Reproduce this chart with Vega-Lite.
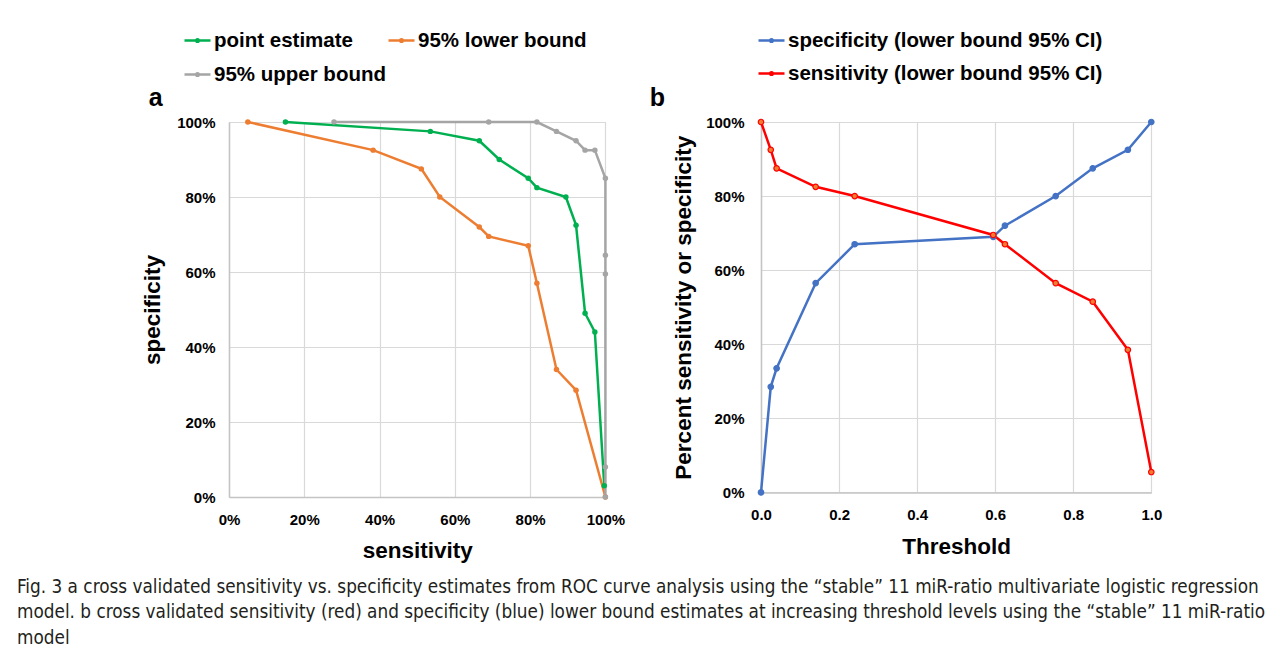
{
  "$schema": "https://vega.github.io/schema/vega-lite/v6.json",
  "padding": {"left": 17, "top": 26, "right": 5, "bottom": 5},
  "background": "#ffffff",
  "config": {
    "view": {"stroke": null},
    "axis": {
      "labelFont": "Liberation Sans", "labelFontWeight": "bold", "labelFontSize": 15, "labelColor": "#000000", "labelFlush": false,
      "titleFont": "Liberation Sans", "titleFontWeight": "bold", "titleFontSize": 22.5, "titleColor": "#000000",
      "gridColor": "#d9d9d9", "gridWidth": 1.2, "domainColor": "#c4c4c4", "domainWidth": 1.5, "ticks": false
    },
    "title": {"font": "Liberation Sans", "fontWeight": "bold", "color": "#000000"}
  },
  "title": {
    "text": [
      "Fig. 3  a cross validated sensitivity vs. specificity estimates from ROC curve analysis using the “stable” 11 miR-ratio multivariate logistic regression",
      "model. b cross validated sensitivity (red) and specificity (blue) lower bound estimates at increasing threshold levels using the “stable” 11 miR-ratio",
      "model"
    ],
    "orient": "bottom", "anchor": "start", "frame": "group", "dx": -212, "offset": 16,
    "font": "DejaVu Sans Condensed, Liberation Sans", "fontSize": 18.8, "fontWeight": "normal",
    "lineHeight": 25.5, "color": "#231f20", "baseline": "top"
  },
  "bounds": "flush",
  "spacing": 155,
  "resolve": {
    "scale": {"x": "independent", "y": "independent", "color": "independent", "fill": "independent", "stroke": "independent"},
    "legend": {"color": "independent", "fill": "independent", "stroke": "independent"}
  },
  "hconcat": [
    {
      "width": 376.4, "height": 375,
      "title": {"text": "a", "anchor": "start", "frame": "bounds", "dx": 7, "offset": -85, "fontSize": 25},
      "data": {"values": [
        {"series": "point estimate", "i": 1, "sens": 0.15, "spec": 1.0},
        {"series": "point estimate", "i": 2, "sens": 0.535, "spec": 0.975},
        {"series": "point estimate", "i": 3, "sens": 0.665, "spec": 0.95},
        {"series": "point estimate", "i": 4, "sens": 0.718, "spec": 0.9},
        {"series": "point estimate", "i": 5, "sens": 0.795, "spec": 0.85},
        {"series": "point estimate", "i": 6, "sens": 0.818, "spec": 0.825},
        {"series": "point estimate", "i": 7, "sens": 0.895, "spec": 0.8},
        {"series": "point estimate", "i": 8, "sens": 0.922, "spec": 0.725},
        {"series": "point estimate", "i": 9, "sens": 0.946, "spec": 0.49},
        {"series": "point estimate", "i": 10, "sens": 0.972, "spec": 0.44},
        {"series": "point estimate", "i": 11, "sens": 0.997, "spec": 0.03},
        {"series": "95% lower bound", "i": 1, "sens": 0.05, "spec": 1.0},
        {"series": "95% lower bound", "i": 2, "sens": 0.383, "spec": 0.925},
        {"series": "95% lower bound", "i": 3, "sens": 0.511, "spec": 0.875},
        {"series": "95% lower bound", "i": 4, "sens": 0.56, "spec": 0.8},
        {"series": "95% lower bound", "i": 5, "sens": 0.665, "spec": 0.72},
        {"series": "95% lower bound", "i": 6, "sens": 0.69, "spec": 0.695},
        {"series": "95% lower bound", "i": 7, "sens": 0.795, "spec": 0.67},
        {"series": "95% lower bound", "i": 8, "sens": 0.818, "spec": 0.57},
        {"series": "95% lower bound", "i": 9, "sens": 0.87, "spec": 0.34},
        {"series": "95% lower bound", "i": 10, "sens": 0.922, "spec": 0.285},
        {"series": "95% lower bound", "i": 11, "sens": 1.0, "spec": 0.0},
        {"series": "95% upper bound", "i": 1, "sens": 0.279, "spec": 1.0},
        {"series": "95% upper bound", "i": 2, "sens": 0.69, "spec": 1.0},
        {"series": "95% upper bound", "i": 3, "sens": 0.818, "spec": 1.0},
        {"series": "95% upper bound", "i": 4, "sens": 0.87, "spec": 0.975},
        {"series": "95% upper bound", "i": 5, "sens": 0.922, "spec": 0.95},
        {"series": "95% upper bound", "i": 6, "sens": 0.946, "spec": 0.925},
        {"series": "95% upper bound", "i": 7, "sens": 0.972, "spec": 0.925},
        {"series": "95% upper bound", "i": 8, "sens": 1.0, "spec": 0.85},
        {"series": "95% upper bound", "i": 9, "sens": 1.0, "spec": 0.645},
        {"series": "95% upper bound", "i": 10, "sens": 1.0, "spec": 0.595},
        {"series": "95% upper bound", "i": 11, "sens": 1.0, "spec": 0.08},
        {"series": "95% upper bound", "i": 12, "sens": 1.0, "spec": 0.0}
      ]},
      "encoding": {
        "x": {"field": "sens", "type": "quantitative", "title": "sensitivity",
              "scale": {"domain": [0, 1], "nice": false},
              "axis": {"format": ".0%", "values": [0, 0.2, 0.4, 0.6, 0.8, 1.0], "labelPadding": 15, "titlePadding": 12}},
        "y": {"field": "spec", "type": "quantitative", "title": "specificity",
              "scale": {"domain": [0, 1], "nice": false},
              "axis": {"format": ".0%", "values": [0, 0.2, 0.4, 0.6, 0.8, 1.0], "labelPadding": 14, "titlePadding": 12}}
      },
      "layer": [
        {
          "mark": {"type": "line", "strokeWidth": 2.5},
          "encoding": {
            "order": {"field": "i", "type": "quantitative"},
            "color": {"field": "series", "type": "nominal",
              "scale": {"domain": ["point estimate", "95% upper bound", "95% lower bound"], "range": ["#00b050", "#a5a5a5", "#ed7d31"]},
              "legend": {"title": null, "orient": "none", "legendX": -46, "legendY": -96, "columns": 2, "columnPadding": -3, "rowPadding": 9,
                "symbolType": "M-1,0H1M0.1,0A0.1,0.1,0,1,1,-0.1,0A0.1,0.1,0,1,1,0.1,0", "symbolSize": 676, "symbolStrokeWidth": 2.5,
                "labelFont": "Liberation Sans", "labelFontWeight": "bold", "labelFontSize": 20.5, "labelColor": "#000000", "labelOffset": 2, "labelLimit": 400}}
          }
        },
        {
          "mark": {"type": "point", "filled": true, "size": 30, "opacity": 1},
          "encoding": {
            "fill": {"field": "series", "type": "nominal",
              "scale": {"domain": ["point estimate", "95% lower bound", "95% upper bound"], "range": ["#00b050", "#ed7d31", "#a5a5a5"]},
              "legend": null}
          }
        }
      ]
    },
    {
      "width": 390.3, "height": 370.4,
      "title": {"text": "b", "anchor": "start", "frame": "bounds", "dx": -23, "offset": -85, "fontSize": 25},
      "data": {"values": [
        {"measure": "specificity (lower bound 95% CI)", "threshold": 0.0, "value": 0.0},
        {"measure": "specificity (lower bound 95% CI)", "threshold": 0.025, "value": 0.285},
        {"measure": "specificity (lower bound 95% CI)", "threshold": 0.04, "value": 0.335},
        {"measure": "specificity (lower bound 95% CI)", "threshold": 0.14, "value": 0.565},
        {"measure": "specificity (lower bound 95% CI)", "threshold": 0.24, "value": 0.67},
        {"measure": "specificity (lower bound 95% CI)", "threshold": 0.595, "value": 0.69},
        {"measure": "specificity (lower bound 95% CI)", "threshold": 0.625, "value": 0.72},
        {"measure": "specificity (lower bound 95% CI)", "threshold": 0.755, "value": 0.8},
        {"measure": "specificity (lower bound 95% CI)", "threshold": 0.85, "value": 0.875},
        {"measure": "specificity (lower bound 95% CI)", "threshold": 0.94, "value": 0.925},
        {"measure": "specificity (lower bound 95% CI)", "threshold": 1.0, "value": 1.0},
        {"measure": "sensitivity (lower bound 95% CI)", "threshold": 0.0, "value": 1.0},
        {"measure": "sensitivity (lower bound 95% CI)", "threshold": 0.025, "value": 0.925},
        {"measure": "sensitivity (lower bound 95% CI)", "threshold": 0.04, "value": 0.875},
        {"measure": "sensitivity (lower bound 95% CI)", "threshold": 0.14, "value": 0.825},
        {"measure": "sensitivity (lower bound 95% CI)", "threshold": 0.24, "value": 0.8},
        {"measure": "sensitivity (lower bound 95% CI)", "threshold": 0.595, "value": 0.695},
        {"measure": "sensitivity (lower bound 95% CI)", "threshold": 0.625, "value": 0.67},
        {"measure": "sensitivity (lower bound 95% CI)", "threshold": 0.755, "value": 0.565},
        {"measure": "sensitivity (lower bound 95% CI)", "threshold": 0.85, "value": 0.515},
        {"measure": "sensitivity (lower bound 95% CI)", "threshold": 0.94, "value": 0.385},
        {"measure": "sensitivity (lower bound 95% CI)", "threshold": 1.0, "value": 0.055}
      ]},
      "encoding": {
        "x": {"field": "threshold", "type": "quantitative", "title": "Threshold",
              "scale": {"domain": [0, 1], "nice": false},
              "axis": {"format": ".1f", "values": [0, 0.2, 0.4, 0.6, 0.8, 1.0], "labelPadding": 15, "titlePadding": 13}},
        "y": {"field": "value", "type": "quantitative", "title": "Percent sensitivity or specificity",
              "scale": {"domain": [0, 1], "nice": false},
              "axis": {"format": ".0%", "values": [0, 0.2, 0.4, 0.6, 0.8, 1.0], "labelPadding": 17, "titlePadding": 10}}
      },
      "layer": [
        {
          "mark": {"type": "line", "strokeWidth": 2.5},
          "encoding": {
            "color": {"field": "measure", "type": "nominal",
              "scale": {"domain": ["specificity (lower bound 95% CI)", "sensitivity (lower bound 95% CI)"], "range": ["#4472c4", "#ff0000"]},
              "legend": {"title": null, "orient": "none", "legendX": -4, "legendY": -96, "rowPadding": 8,
                "symbolType": "M-1,0H1M0.1,0A0.1,0.1,0,1,1,-0.1,0A0.1,0.1,0,1,1,0.1,0", "symbolSize": 676, "symbolStrokeWidth": 2.5,
                "labelFont": "Liberation Sans", "labelFontWeight": "bold", "labelFontSize": 20.5, "labelColor": "#000000", "labelOffset": 2, "labelLimit": 500}}
          }
        },
        {
          "mark": {"type": "point", "filled": true, "size": 30, "opacity": 1, "strokeWidth": 1.2},
          "encoding": {
            "fill": {"field": "measure", "type": "nominal",
              "scale": {"domain": ["specificity (lower bound 95% CI)", "sensitivity (lower bound 95% CI)"], "range": ["#4472c4", "#ed7d31"]},
              "legend": null},
            "stroke": {"field": "measure", "type": "nominal",
              "scale": {"domain": ["specificity (lower bound 95% CI)", "sensitivity (lower bound 95% CI)"], "range": ["#4472c4", "#ff0000"]},
              "legend": null}
          }
        }
      ]
    }
  ]
}
